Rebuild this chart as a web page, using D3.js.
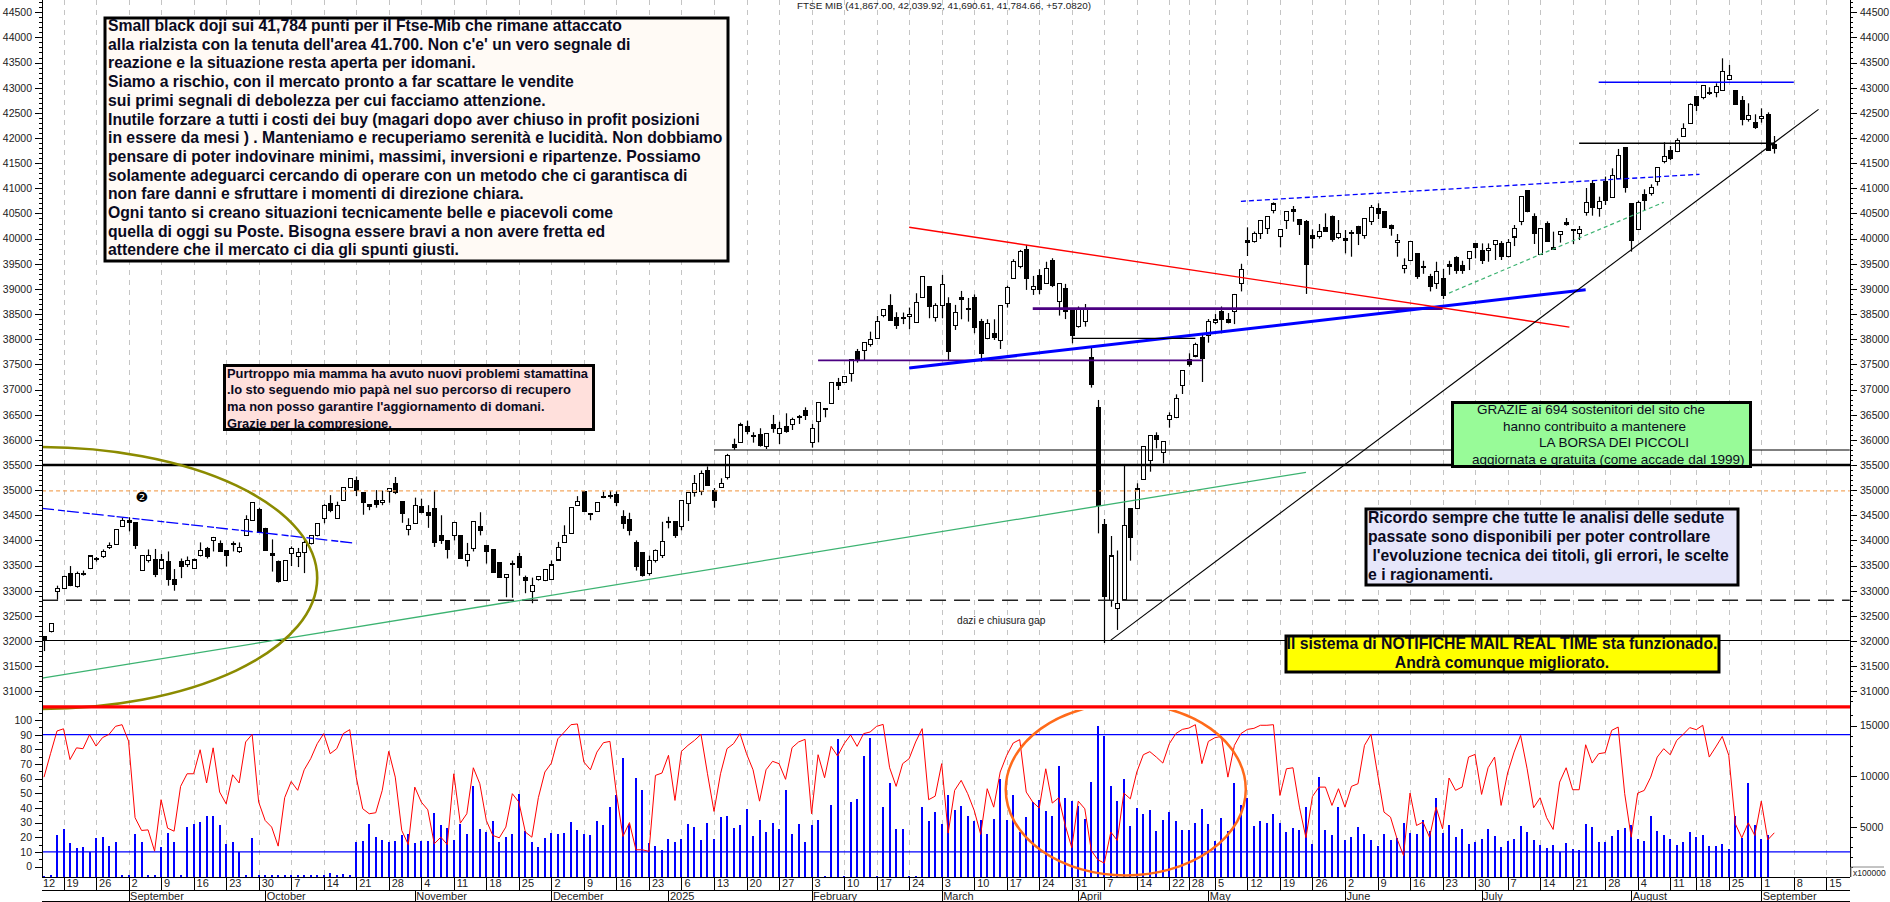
<!DOCTYPE html>
<html><head><meta charset="utf-8">
<script src="https://cdn.jsdelivr.net/npm/d3@7"></script>
<style>
html,body{margin:0;padding:0;background:#fff;overflow:hidden}
svg{display:block}
text{font-family:"Liberation Sans",Arial,sans-serif}
.axis path,.axis line{stroke:#000;stroke-width:1;shape-rendering:crispEdges}
.axis text{font-size:10.5px;fill:#222}
</style></head><body><svg id="c" width="1890" height="902"></svg>
<script>
const opens=[32090,32190,32990,33050,33350,33090,33340,33440,33640,33680,
33850,33920,34270,34400,34360,33400,33600,33620,33440,33570,
33230,33570,33520,33440,33700,33830,33990,33930,33790,33940,
33780,34100,34400,34620,34240,33740,33580,33210,33740,33680,
33760,33940,34090,34440,34735,34440,34790,35050,35185,34950,
34715,34790,34750,34970,35130,34775,34210,34330,34680,34560,
34640,34100,34000,34100,34100,33600,33840,34285,33900,33810,
33550,33260,33540,33680,33270,32990,33220,33200,33230,33610,
33950,34140,34690,34970,34535,34570,34865,34895,34910,34470,
34420,33950,33750,33350,33600,33700,34370,34370,34270,34737,
34955,34980,35380,35000,35050,35250,35900,35950,36270,36083,
36110,35865,36308,36130,36260,36308,36460,36573,35950,36361,
36626,36719,37143,37143,37322,37760,37773,37899,38018,38476,
38675,38423,38430,38450,38337,38834,39053,38436,38662,38715,
38277,38834,38609,38834,38357,38018,38118,37979,38715,39199,
39450,39789,38993,39272,39112,39563,38741,39000,38560,38250,
38350,37640,36646,34306,32800,32650,32820,34637,34638,35214,
35585,36076,35744,36407,36440,37076,37600,37666,38037,38070,
38330,38550,38400,38550,39100,39948,39939,40104,40204,40555,
40038,40356,40568,40383,40330,40064,40038,40224,40442,40018,
39988,40112,40230,40058,40343,40601,40529,40263,39925,39402,
39568,39693,39438,39250,39100,39200,39470,39627,39455,39600,
39905,39766,39760,39885,39892,39640,40032,40337,40960,40443,
39688,40304,39827,40085,40310,40178,40105,40516,41086,40602,
41126,40814,41192,41815,40688,40185,40880,40900,41132,41536,
41755,41735,42034,42292,42822,42809,42905,42908,42948,43167,
42941,42749,42372,42312,42391,42471,41867];
const highs=[32100,32350,33100,33300,33490,33380,33400,33690,33670,33820,
33960,34220,34450,34460,34360,33700,33820,33830,33730,33780,
33430,33640,33680,33640,33960,33870,34070,34000,33800,33980,
33960,34500,34750,34650,34250,34020,33600,33600,33880,33850,
34000,34100,34340,34720,34900,34770,35050,35225,35270,34950,
34720,35000,34990,35040,35260,34775,34440,34850,34830,34700,
35000,34500,34000,34370,34100,33950,34370,34560,33900,33810,
33550,33330,33600,33750,33300,33260,33280,33430,33600,33970,
34300,34655,34880,34970,34540,34750,34970,34990,34980,34600,
34550,34000,33760,33700,33820,34370,34470,34380,34800,34960,
35300,35390,35470,35040,35235,35720,36023,36340,36380,36150,
36230,36130,36494,36360,36527,36440,36494,36646,36315,36745,
36632,37143,37230,37256,37600,37806,37932,38150,38463,38600,
38894,38536,38530,38629,38914,39252,39053,38715,39278,38834,
38682,38960,38820,38890,38404,38396,38396,38675,39065,39590,
39775,39875,39258,39391,39540,39610,39112,39100,38600,38650,
38700,37852,36792,34426,34087,33800,35486,34640,35135,35863,
36083,36149,35963,36546,36904,37375,37719,37930,38105,38400,
38500,38650,38520,38900,39500,40224,40140,40363,40442,40720,
40184,40535,40648,40383,40370,40184,40290,40502,40460,40370,
40170,40170,40255,40403,40668,40701,40529,40280,40091,39607,
39945,39700,39560,39300,39540,39400,39560,39650,39560,39746,
39905,39905,39905,39965,39950,39990,40270,40847,40960,40503,
40205,40343,40138,40145,40410,40180,40250,41006,41165,40834,
41232,41397,41782,41815,40688,40754,40980,41079,41417,41914,
41841,41994,42292,42690,42830,43041,43008,43087,43584,43452,
42941,42835,42690,42471,42590,42510,42040];
const lows=[31800,32170,32820,33030,33090,33060,33300,33430,33580,33650,
33830,33920,34270,34180,33830,33400,33560,33270,33420,33100,
33000,33250,33470,33430,33680,33640,33780,33780,33480,33780,
33750,34100,34390,34150,33800,33380,33160,33200,33490,33470,
33350,33920,34080,34340,34560,34430,34790,35050,34880,34510,
34600,34650,34700,34750,34920,34350,34100,34330,34540,34250,
33870,33930,33640,34000,33640,33480,33780,34100,33540,33360,
33260,32870,32860,33300,32950,32750,33200,33190,33220,33600,
33950,34140,34690,34570,34400,34570,34840,34830,34680,34230,
34100,33400,33280,33300,33560,33650,34240,34050,34200,34385,
34870,34900,35100,34650,35050,35210,35800,35950,36110,35943,
35865,35817,36140,35917,36140,36195,36315,36394,35844,35950,
36447,36719,36990,37143,37157,37535,37574,37853,38018,38436,
38370,38204,38300,38197,38337,38834,38416,38350,38416,37588,
38184,38396,38350,38118,37555,37999,37985,37806,38629,39199,
39410,38980,38880,38894,39112,39036,38470,38400,37918,38230,
38250,37037,34140,31960,32680,32220,32800,33597,34620,35214,
35366,35831,35532,36241,36430,36911,37454,37640,37149,37931,
38300,38117,38314,38300,38950,39654,39920,39992,40091,40502,
39826,40190,40336,40071,38900,39806,40000,40137,39938,39990,
39707,39640,39872,39998,40270,40389,40217,40058,39640,39309,
39568,39200,39300,38950,39000,38800,39280,39300,39300,39375,
39608,39495,39540,39574,39574,39626,39852,40267,40523,39893,
39685,39940,39780,39920,40258,39893,39972,40456,40456,40436,
40668,40810,41190,40914,39741,40172,40556,40854,41053,41497,
41563,41720,42020,42292,42537,42770,42855,42809,42948,43155,
42670,42252,42325,42180,42305,41749,41691];
const closes=[32005,32340,33050,33280,33110,33340,33345,33690,33645,33780,
33890,34220,34400,34350,33890,33700,33700,33320,33610,33230,
33130,33480,33600,33610,33800,33680,34060,33780,33700,33945,
33850,34420,34750,34150,33800,33700,33180,33600,33840,33760,
33960,34090,34340,34700,34600,34700,35050,35225,35000,34750,
34680,34710,34790,35025,34950,34530,34300,34700,34550,34490,
33950,33990,33830,34360,33640,33720,34370,34200,33780,33360,
33260,33330,33545,33460,33200,33100,33280,33430,33510,33860,
34100,34655,34770,34570,34540,34750,34870,34900,34750,34340,
34200,33480,33300,33600,33800,33980,34380,34100,34800,34955,
35130,35333,35100,34800,35130,35680,35845,36295,36160,36088,
35885,36130,36220,36230,36160,36407,36465,36494,36229,36745,
36630,37143,37077,37256,37600,37574,37932,38000,38357,38582,
38370,38270,38435,38490,38728,39252,38648,38675,39086,37753,
38529,38788,38614,38231,37714,38317,38032,38675,39033,39550,
39742,39205,39046,38987,39404,39060,39112,38560,38084,38600,
38600,37100,34700,32880,33690,32750,34293,34055,35022,35863,
36083,36010,35963,36480,36825,37375,37494,37898,37613,38355,
38382,38400,38330,38880,39390,39952,40104,40363,40442,40688,
40184,40535,40535,40277,39495,40011,40144,40137,39992,40104,
39992,40117,40098,40403,40621,40495,40217,40197,39965,39468,
39945,39250,39442,39050,39350,38870,39475,39375,39375,39746,
39820,39574,39806,39965,39640,39925,40204,40841,40542,40098,
40205,39940,39780,40145,40305,40175,40185,40721,40615,40735,
40755,41258,41656,41013,39959,40721,40755,41020,41417,41629,
41596,41954,42186,42670,42643,43041,42900,43021,43319,43240,
42670,42372,42451,42213,42431,41749,41785];
const volumes=[160,200,4140,4730,3360,2870,2970,2510,3850,3980,
3060,3460,200,200,4300,3460,200,200,2970,4340,
3460,200,4990,5310,5480,6060,6100,5180,3330,3460,
2540,200,3850,200,200,200,200,200,200,230,
230,230,230,230,420,230,330,230,3460,3560,
5220,3950,3720,3460,3560,4170,4300,3390,3560,3560,
6390,5180,4920,3650,5280,4240,9000,4730,4470,5610,
3460,3980,4300,8250,4530,3460,2970,3850,4340,4300,
4400,5510,4630,4300,4140,5580,5120,6980,8150,11740,
5280,9780,8610,3420,3060,2670,3810,3460,3810,5220,
4990,3720,5410,3810,5970,6060,4920,5120,6720,4040,
5710,4430,5380,4730,8610,4300,5310,3520,5180,5710,
130,7140,13630,130,7400,7760,12030,13760,130,6940,
9320,4820,4730,130,130,6980,5540,6450,5280,8150,
6680,7070,6060,5570,5670,4300,5800,9750,5710,8120,
4500,6000,7430,7630,6550,6100,10950,7820,7560,7010,
5800,9390,15000,13990,9000,7560,9680,5020,6880,6260,
6650,4530,5640,6450,5610,4690,4630,5380,6720,5220,
3590,5900,4560,9320,7140,7790,5090,5610,5410,6260,
5410,4470,4920,4690,6980,3290,9910,4630,4210,6980,
3650,3940,4990,4300,3720,3130,4300,3720,3910,5410,
4370,4240,5710,4530,7820,4340,5180,4010,4820,3290,
3460,3810,4730,4110,2970,3550,3810,5020,4430,3650,
3230,2930,3230,2540,3360,2840,2670,5220,4990,3460,
3520,4040,4690,4920,5180,3810,3550,6060,4530,4140,
3750,3230,3460,4430,3980,4140,3060,3060,3260,2840,
6030,3850,9320,5180,3750,4170,70];
const oscillator=[61,77,92.5,94,73,81,80.4,90,82.2,88,
90.2,95.7,96.8,85.6,33.3,24.6,25,10.5,45.6,26.2,
24.1,54.7,63.3,63.3,79.7,57,81,50.8,42.8,62.6,
57,85,90.2,44,31.4,26.9,13.9,47,58,52,
66,73.6,83.8,90.7,77,80.4,90.7,93.4,61,39.4,
36,36.7,52,78.6,61,24.6,15,54.2,44,38.7,
15.5,20,15,63.3,29.6,36,67.4,56.5,31.4,21.2,
19.6,26.9,49.7,44,23.5,20,47,64.5,70.6,87.2,
91.8,96.8,97.3,71.3,66,78.1,84.5,85.4,49.7,20.5,
30,11.4,11.4,10.3,62.2,63.8,75.9,45.1,78.6,82.7,
86.1,90.2,63.3,37.6,63.3,80.4,83.8,90.7,77,66,
44.6,66,71.8,70.2,59.5,81.1,85,86.8,36,76.3,
60.6,82,75.4,83.8,89.8,82,90.7,91.8,95.7,97,
67.4,54.7,70.2,73.6,85,94.1,45.6,48,70.2,22.8,
52,58.8,49.7,38.3,21.9,53.1,40.5,64.5,75.9,84.3,
86.6,50.8,44,39.9,66.7,43.3,46.9,28,12.8,44.6,
39.4,10.9,4.6,2.3,23.5,17.8,50.1,46.2,64.5,76.3,
78.4,74.7,70.6,83.8,90.7,93.6,94.5,96.8,70.2,85.4,
87.9,88.8,61,82.7,90.7,93.6,94.3,96.4,96.4,96.8,
48.5,66.7,67.4,40.5,19.6,47.8,54.2,54.2,41.7,53.1,
40.5,54.7,56.5,82.7,90.2,63.3,37.1,33.7,18.9,7.5,
50.1,28,30.3,20,40.5,25.7,60.4,52,54.2,74.7,
76.5,49.2,67.4,74.7,41.7,63.8,78.1,89.5,66.7,40.1,
46.9,33.3,25.3,57.6,67.4,52.4,52.4,83.1,70.6,77,
77.7,92.9,95.2,49.7,20,50.1,51.9,61,74.7,80.4,
76.3,86.1,90.2,94.8,93.4,96.4,74.7,81.6,88.8,75.9,
29.2,19.6,29.8,21.2,44.6,18.2,23];

const dayLabels=["19","26","2","9","16","23","30","7","14","21","28","4","11","18","25","2","9","16","23","6","13","20","27","3","10","17","24","3","10","17","24","31","7","14","22","28","5","12","19","26","2","9","16","23","30","7","14","21","28","4","11","18","25","1","8","15"];
const dayIndex=[3,8,13,18,23,28,33,38,43,48,53,58,63,68,73,78,83,88,93,98,103,108,113,118,123,128,133,138,143,148,153,158,163,168,173,176,180,185,190,195,200,205,210,215,220,225,230,235,240,245,250,254,259,264,269,274];
const monthLabels=["September","October","November","December","2025","February","March","April","May","June","July","August","September"];
const monthIndex=[13,34,57,78,96,118,138,159,179,200,221,244,264];

// price annotations: [startBar, startPrice, endBar, endPrice, colour, width, dash]
const trendLines=[
 [-0.3,34985,277.6,34985,"#f4a860",1.2,"4 3"],
 [-0.3,32810,277.6,32810,"#222",1.6,"16 8"],
 [-0.3,32010,277.6,32010,"#000",1.2,""],
 [103,35797,277.6,35797,"#000",1.1,""],
 [-0.3,31260,194,35354,"#3cb371",1.3,""],
 [-0.3,34638,48,33943,"#0000ff",1.3,"12 4 7 2"],
 [119,37580,178,37580,"#4b0082",1.6,""],
 [152,38607,215,38607,"#4b0082",2.8,""],
 [133,37428,237,38985,"#0000ff",3,""],
 [133,40225,234.5,38240,"#ff0000",1.4,""],
 [184,40742,254.5,41278,"#0000ff",1.3,"5 3"],
 [216,38917,249,40722,"#3cb371",1.2,"4 3"],
 [164,32017,272.8,42570,"#000",1.1,""],
 [239,43107,269,43107,"#0000ff",1.5,""],
 [236,41895,266,41895,"#000",1.5,""],
 [158,38018,177,38018,"#000",1.3,""]
];
const thickLevel=35500, dividerLevel=30690;
const upperBand=90, lowerBand=10;

const noteMain=["Small black doji sui 41,784 punti per il Ftse-Mib che rimane attaccato","alla rialzista con la tenuta dell'area 41.700. Non c'e' un vero segnale di","reazione e la situazione resta aperta per idomani.","Siamo a rischio, con il mercato pronto a far scattare le vendite","sui primi segnali di debolezza per cui facciamo attenzione.","Inutile forzare a tutti i costi dei buy (magari dopo aver chiuso in profit posizioni","in essere da mesi ) . Manteniamo e recuperiamo serenità e lucidità. Non dobbiamo","pensare di poter indovinare minimi, massimi, inversioni e ripartenze. Possiamo","solamente adeguarci cercando di operare con un metodo che ci garantisca di","non fare danni e sfruttare i momenti di direzione chiara.","Ogni tanto si creano situazioni tecnicamente belle e piacevoli come","quella di oggi su Poste. Bisogna essere bravi a non avere fretta ed","attendere che il mercato ci dia gli spunti giusti."];
const notePink=["Purtroppo mia mamma ha avuto nuovi problemi stamattina",".Io sto seguendo mio papà nel suo percorso di recupero","ma non posso garantire l'aggiornamento di domani.","Grazie per la compresione."];
const noteGreen=["GRAZIE ai 694 sostenitori del sito che","hanno contribuito a mantenere","LA BORSA DEI PICCOLI","aggiornata e gratuita (come accade dal 1999)"];
const noteLav=["Ricordo sempre che tutte le analisi delle sedute","passate sono disponibili per poter controllare"," l'evoluzione tecnica dei titoli, gli errori, le scelte","e i ragionamenti."];
const noteYellow=["Il sistema di NOTIFICHE MAIL REAL TIME sta funzionado.","Andrà comunque migliorato."];
const titleText="FTSE MIB (41,867.00, 42,039.92, 41,690.61, 41,784.66, +57.0820)";
const gapText="dazi e chiusura gap";

const L=42,R=1850,B=877.3;
const svg=d3.select("#c");
const x=d3.scaleLinear().domain([0,266]).range([44,1774.3]);
const y=d3.scaleLinear().domain([44000,31000]).range([37.4,691.3]);
const yO=d3.scaleLinear().domain([100,0]).range([720,866.5]);
const yV=d3.scaleLinear().domain([0,15000]).range([B,725.5]);

const defs=svg.append("defs");
defs.append("clipPath").attr("id","cm").append("rect").attr("x",L).attr("y",0).attr("width",R-L).attr("height",712);
defs.append("clipPath").attr("id","cl").append("rect").attr("x",L).attr("y",710).attr("width",R-L).attr("height",B-710);

// grid
svg.append("g").selectAll("line").data(dayIndex).join("line")
 .attr("x1",d=>Math.round(x(d))+.5).attr("x2",d=>Math.round(x(d))+.5).attr("y1",0).attr("y2",B)
 .attr("stroke","#c4c4c4").attr("stroke-width",1).attr("stroke-dasharray","5 5").attr("shape-rendering","crispEdges");

// oscillator panel
svg.append("g").selectAll("line").data(volumes).join("line")
 .attr("x1",(d,i)=>x(i)).attr("x2",(d,i)=>x(i)).attr("y1",B).attr("y2",d=>yV(d))
 .attr("stroke","#0000ff").attr("stroke-width",2).attr("shape-rendering","crispEdges");
[upperBand,lowerBand].forEach(v=>svg.append("line").attr("x1",L).attr("x2",R).attr("y1",yO(v)).attr("y2",yO(v)).attr("stroke","#0000ff").attr("stroke-width",1.3));
svg.append("path").datum(oscillator)
 .attr("d",d3.line().x((d,i)=>x(i)).y(d=>yO(d)))
 .attr("fill","none").attr("stroke","#ff0000").attr("stroke-width",1);

// candles
const c=svg.append("g").selectAll("g").data(opens.map((o,i)=>({i,o,h:highs[i],l:lows[i],c:closes[i]}))).join("g");
c.append("line").attr("x1",d=>Math.round(x(d.i))+.5).attr("x2",d=>Math.round(x(d.i))+.5)
 .attr("y1",d=>y(d.h)).attr("y2",d=>y(d.l)).attr("stroke","#000").attr("stroke-width",1.2);
c.append("rect").attr("x",d=>Math.round(x(d.i))-1.5).attr("width",4)
 .attr("y",d=>y(Math.max(d.o,d.c))).attr("height",d=>Math.max(1,Math.abs(y(d.o)-y(d.c))))
 .attr("fill",d=>d.c>=d.o?"#fff":"#000").attr("stroke","#000").attr("stroke-width",1.1).attr("shape-rendering","crispEdges");

// annotation lines
svg.append("line").attr("x1",L).attr("x2",R).attr("y1",y(thickLevel)).attr("y2",y(thickLevel)).attr("stroke","#000").attr("stroke-width",2.4);
svg.append("g").selectAll("line").data(trendLines).join("line")
 .attr("x1",d=>x(d[0])).attr("y1",d=>y(d[1])).attr("x2",d=>x(d[2])).attr("y2",d=>y(d[3]))
 .attr("stroke",d=>d[4]).attr("stroke-width",d=>d[5]).attr("stroke-dasharray",d=>d[6]);

// ellipses
svg.append("ellipse").attr("clip-path","url(#cm)").attr("cx",x(-0.6)).attr("cy",y(33253))
 .attr("rx",x(42.6)-x(0)).attr("ry",y(30650)-y(33253)).attr("fill","none").attr("stroke","#8b8b00").attr("stroke-width",2.6);
svg.append("line").attr("x1",L).attr("x2",R).attr("y1",y(dividerLevel)).attr("y2",y(dividerLevel)).attr("stroke","#ff0000").attr("stroke-width",3.2);
svg.append("ellipse").attr("clip-path","url(#cl)").attr("cx",x(166.3)).attr("cy",yO(52.6))
 .attr("rx",x(18.45)-x(0)).attr("ry",yO(0)-yO(58.7)).attr("fill","none").attr("stroke","#ff6a1a").attr("stroke-width",2.5);

// axes
function styleAxis(g){g.attr("class","axis");g.select(".domain").remove();}
const fmt=d3.format("d");
const priceTicks=d3.range(31000,44501,500), priceMinor=d3.range(30800,44800,100);
const oscTicks=d3.range(0,101,10), oscMinor=d3.range(0,106,5), volTicks=[5000,10000,15000], volMinor=d3.range(1000,16001,1000);
const left=d3.axisLeft, right=d3.axisRight;
[[left,L],[right,R]].forEach(([ax,X])=>{
 svg.append("g").attr("transform",`translate(${X},0)`).call(ax(y).tickValues(priceMinor).tickSize(3).tickFormat("")).call(styleAxis);
 svg.append("g").attr("transform",`translate(${X},0)`).call(ax(y).tickValues(priceTicks).tickSize(7).tickPadding(3).tickFormat(fmt)).call(styleAxis);
});
svg.append("g").attr("transform",`translate(${L},0)`).call(left(yO).tickValues(oscMinor).tickSize(3).tickFormat("")).call(styleAxis);
svg.append("g").attr("transform",`translate(${L},0)`).call(left(yO).tickValues(oscTicks).tickSize(7).tickPadding(3).tickFormat(fmt)).call(styleAxis);
svg.append("g").attr("transform",`translate(${R},0)`).call(right(yV).tickValues(volMinor).tickSize(3).tickFormat("")).call(styleAxis);
svg.append("g").attr("transform",`translate(${R},0)`).call(right(yV).tickValues(volTicks).tickSize(7).tickPadding(3).tickFormat(fmt)).call(styleAxis);

const rule=(x1,y1,x2,y2,w=1)=>svg.append("line").attr("x1",x1).attr("y1",y1).attr("x2",x2).attr("y2",y2).attr("stroke","#000").attr("stroke-width",w).attr("shape-rendering","crispEdges");
rule(L+.5,0,L+.5,B); rule(R+.5,0,R+.5,B);
rule(L,B,R,B); rule(L,890.5,R,890.5); rule(L,901.5,R,901.5);

// date rows
svg.append("text").attr("x",L+1).attr("y",887).attr("font-size",11).attr("fill","#222").text("12");
const dayG=svg.append("g").selectAll("g").data(dayIndex).join("g");
dayG.append("line").attr("x1",d=>Math.round(x(d))+.5).attr("x2",d=>Math.round(x(d))+.5).attr("y1",B).attr("y2",890).attr("stroke","#000").attr("shape-rendering","crispEdges");
dayG.append("text").attr("x",d=>x(d)+3).attr("y",887).attr("font-size",11).attr("fill","#222").text((d,i)=>dayLabels[i]);
const monG=svg.append("g").selectAll("g").data(monthIndex).join("g");
monG.append("line").attr("x1",d=>Math.round(x(d))+.5).attr("x2",d=>Math.round(x(d))+.5).attr("y1",890).attr("y2",902).attr("stroke","#000").attr("shape-rendering","crispEdges");
monG.append("text").attr("x",d=>x(d)+1.5).attr("y",900).attr("font-size",11).attr("fill","#222").text((d,i)=>monthLabels[i]);

// scale-factor tag
svg.append("path").attr("d",`M${R+1},877V867H1884`).attr("fill","none").attr("stroke","#888");
svg.append("text").attr("x",R+3).attr("y",875.5).attr("font-size",8.5).attr("fill","#222").text("x100000");

// texts
svg.append("text").attr("x",797).attr("y",9).attr("font-size",9.9).attr("fill","#222").text(titleText);
svg.append("text").attr("x",957).attr("y",624).attr("font-size",10.2).attr("fill","#222").text(gapText);
svg.append("text").attr("x",141.8).attr("y",502).attr("text-anchor","middle").attr("font-size",14).style("font-family","DejaVu Sans").attr("fill","#000").text("\u2777");

function box(x0,y0,x1,y1,fill,lines,opt){
 const g=svg.append("g");
 g.append("rect").attr("x",x0).attr("y",y0).attr("width",x1-x0).attr("height",y1-y0).attr("fill",fill).attr("stroke","#000").attr("stroke-width",3);
 g.selectAll("text").data(lines).join("text")
  .attr("x",(d,i)=>opt.xs?opt.xs[i]:opt.x).attr("y",(d,i)=>opt.y+i*opt.lh)
  .attr("text-anchor",opt.anchor||"start").attr("font-weight",opt.weight||"bold").attr("font-size",opt.size)
  .attr("xml:space","preserve").style("white-space","pre").attr("fill","#0a0a1e").text(d=>d);
}
box(105,18,728,261,"#fffaf5",noteMain,{x:108,y:31,lh:18.7,size:15.75});
box(224.5,365.5,593.5,429.5,"#ffe0dc",notePink,{x:227,y:377.5,lh:16.7,size:12.9});
box(1452.5,402.5,1750.5,466.5,"#98fb98",noteGreen,{xs:[1477,1503,1539,1472],y:414,lh:16.7,size:13.5,weight:"normal"});
box(1366,509,1738,585,"#e6e6fa",noteLav,{x:1368,y:522.5,lh:19,size:15.75});
box(1286,636,1719,672,"#ffff00",noteYellow,{x:1502,y:649,lh:19,size:15.75,anchor:"middle"});
</script></body></html>
